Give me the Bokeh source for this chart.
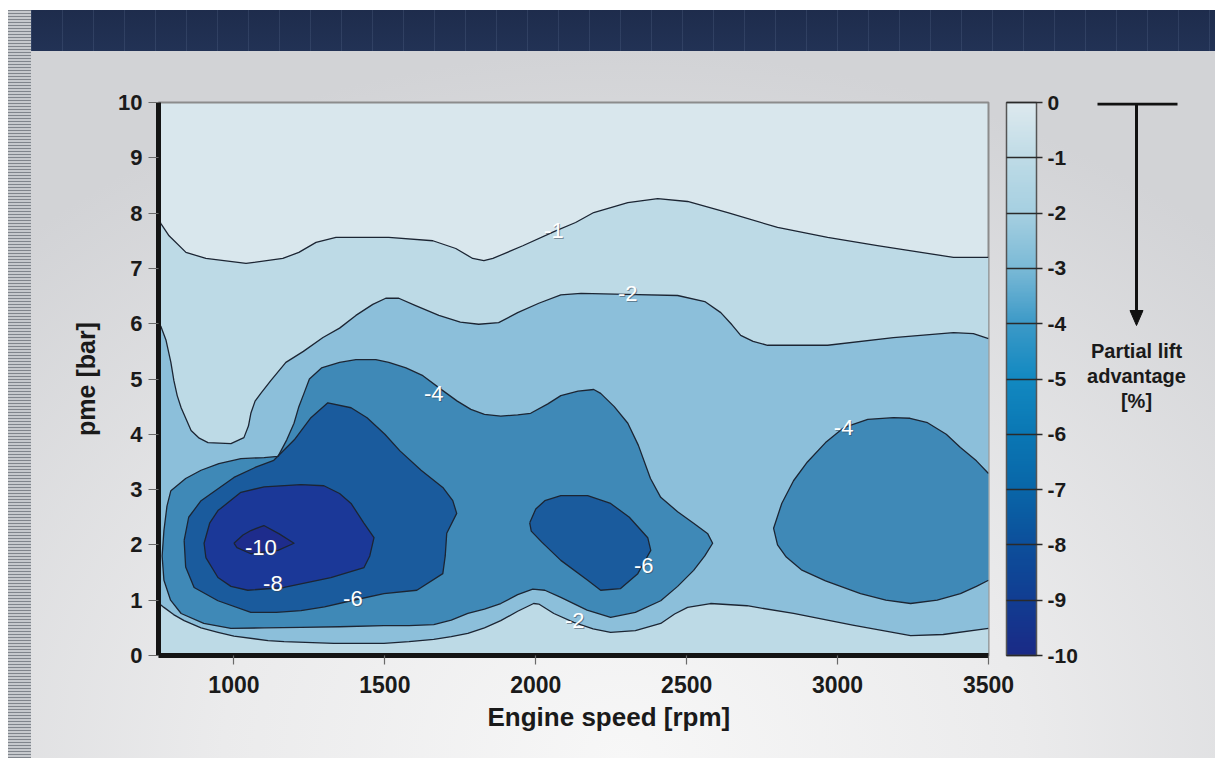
import numpy as np
from bokeh.plotting import figure
from bokeh.layouts import row
from bokeh.models import (ColorBar, LinearColorMapper, FixedTicker, Range1d, Title)
from bokeh.core.properties import value
from bokeh.embed import file_html
from bokeh.resources import INLINE

# ---------------- data ----------------
x_ticks = [1000, 1500, 2000, 2500, 3000, 3500]
y_ticks = list(range(0, 11))
cbar_ticks = list(range(-10, 1))

# isoline -1 (open, left edge -> right edge)
iso_m1_x = [750, 758, 785, 841, 907, 1040, 1162, 1215, 1272, 1338, 1513, 1659, 1735, 1791, 1828,
            1858, 1957, 2066, 2132, 2192, 2305, 2404, 2503, 2636, 2801, 2967, 3132, 3298, 3384, 3500]
iso_m1_y = [7.9, 7.81, 7.59, 7.29, 7.18, 7.09, 7.18, 7.29, 7.47, 7.56, 7.56, 7.5, 7.36, 7.18, 7.14,
            7.18, 7.41, 7.68, 7.83, 8.01, 8.19, 8.26, 8.21, 8.01, 7.74, 7.56, 7.41, 7.27, 7.2, 7.2]

# isoline -2 upper (open)
iso_m2u_x = [750, 758, 775, 791, 801, 812, 825, 858, 885, 914, 990, 1033, 1048, 1056, 1070, 1089,
             1122, 1172, 1230, 1295, 1350, 1404, 1460, 1503, 1546, 1600, 1679, 1750, 1811, 1877,
             1940, 2010, 2083, 2150, 2300, 2470, 2560, 2613, 2650, 2679, 2720, 2768, 2967, 3185,
             3384, 3450, 3500]
iso_m2u_y = [6.0, 5.95, 5.7, 5.3, 4.97, 4.7, 4.48, 4.07, 3.93, 3.85, 3.83, 3.94, 4.15, 4.38, 4.6,
             4.74, 4.97, 5.3, 5.5, 5.75, 5.92, 6.15, 6.35, 6.46, 6.46, 6.33, 6.15, 6.03, 5.99, 6.02,
             6.2, 6.37, 6.52, 6.55, 6.53, 6.51, 6.4, 6.2, 5.98, 5.79, 5.68, 5.61, 5.61, 5.75,
             5.84, 5.82, 5.73]

# isoline -2 lower (open)
iso_m2l_x = [750, 768, 800, 835, 891, 947, 1000, 1113, 1166, 1331, 1497, 1580, 1662, 1720, 1775,
             1830, 1884, 1940, 1993, 2010, 2060, 2126, 2190, 2248, 2330, 2414, 2460, 2503, 2579,
             2700, 2854, 3050, 3242, 3350, 3500]
iso_m2l_y = [0.95, 0.87, 0.74, 0.63, 0.5, 0.42, 0.35, 0.27, 0.25, 0.22, 0.22, 0.25, 0.29, 0.34, 0.4,
             0.5, 0.63, 0.8, 0.94, 0.93, 0.76, 0.6, 0.48, 0.42, 0.45, 0.58, 0.75, 0.87, 0.94,
             0.9, 0.76, 0.55, 0.36, 0.38, 0.49]

# isoline -4, large left region (closed)
iso_m4a_x = [791, 840, 891, 950, 1023, 1100, 1146, 1175, 1199, 1215, 1232, 1250, 1290, 1350, 1404,
             1470, 1513, 1570, 1626, 1692, 1740, 1785, 1830, 1884, 1940, 1983, 2040, 2083, 2140,
             2192, 2215, 2260, 2305, 2340, 2380, 2414, 2470, 2523, 2570, 2586, 2560, 2523, 2470,
             2414, 2330, 2248, 2170, 2083, 2030, 1990, 1940, 1884, 1830, 1775, 1720, 1662, 1580,
             1497, 1350, 1222, 1100, 990, 900, 825, 790, 768, 762, 768, 778]
iso_m4a_y = [2.98, 3.2, 3.35, 3.47, 3.56, 3.58, 3.6, 3.9, 4.2, 4.5, 4.74, 5.0, 5.2, 5.3, 5.35,
             5.35, 5.3, 5.2, 5.06, 4.79, 4.6, 4.45, 4.36, 4.33, 4.35, 4.38, 4.55, 4.7, 4.78,
             4.81, 4.74, 4.5, 4.2, 3.8, 3.2, 2.86, 2.6, 2.39, 2.2, 2.03, 1.8, 1.54, 1.25,
             0.99, 0.78, 0.69, 0.82, 1.05, 1.18, 1.2, 1.1, 0.94, 0.84, 0.76, 0.64, 0.56, 0.54,
             0.54, 0.52, 0.51, 0.5, 0.49, 0.58, 0.76, 1.0, 1.36, 1.8, 2.26, 2.7]

# isoline -4, right region (open, meets right edge)
iso_m4b_x = [3500, 3460, 3407, 3360, 3298, 3240, 3185, 3100, 3020, 2960, 2900, 2854, 2815, 2788,
             2801, 2830, 2880, 2960, 3076, 3160, 3242, 3330, 3407, 3460, 3500]
iso_m4b_y = [3.29, 3.52, 3.76, 4.0, 4.21, 4.29, 4.3, 4.27, 4.12, 3.85, 3.5, 3.16, 2.75, 2.3,
             2.0, 1.78, 1.55, 1.35, 1.12, 1.0, 0.94, 1.0, 1.12, 1.25, 1.36]

# isoline -6, left (closed)
iso_m6a_x = [835, 850, 891, 1000, 1070, 1132, 1200, 1255, 1311, 1388, 1441, 1500, 1550, 1620, 1692,
             1725, 1738, 1705, 1700, 1692, 1606, 1497, 1388, 1300, 1222, 1140, 1056, 947, 868, 840]
iso_m6a_y = [2.08, 2.5, 2.8, 3.22, 3.4, 3.53, 3.9, 4.3, 4.57, 4.48, 4.3, 4.0, 3.7, 3.35, 3.04,
             2.8, 2.57, 2.21, 1.8, 1.48, 1.18, 1.12, 0.99, 0.88, 0.81, 0.78, 0.78, 0.99, 1.23, 1.6]

# isoline -6, middle (closed)
iso_m6b_x = [1980, 2000, 2030, 2083, 2172, 2248, 2310, 2371, 2381, 2338, 2281, 2215, 2172, 2083,
             2020, 1985]
iso_m6b_y = [2.4, 2.65, 2.8, 2.89, 2.89, 2.75, 2.5, 2.13, 1.9, 1.48, 1.21, 1.18, 1.36, 1.72,
             2.05, 2.25]

# isoline -8 (closed)
iso_m8_x = [907, 901, 920, 947, 1023, 1100, 1222, 1298, 1350, 1388, 1430, 1464, 1450, 1431, 1321,
            1166, 1046, 990, 947]
iso_m8_y = [1.77, 2.03, 2.4, 2.62, 2.95, 3.05, 3.09, 3.07, 2.93, 2.75, 2.4, 2.13, 1.8, 1.59, 1.41,
            1.23, 1.18, 1.25, 1.41]

# isoline -10 (closed)
iso_m10_x = [1000, 1030, 1056, 1099, 1150, 1199, 1146, 1056, 1010]
iso_m10_y = [2.03, 2.18, 2.26, 2.35, 2.2, 2.03, 1.9, 1.84, 1.95]

# contour labels
lab_x = [2060, 2305, 1662, 3020, 1089, 1129, 1394, 2358, 2129]
lab_y = [7.69, 6.55, 4.74, 4.12, 1.95, 1.3, 1.03, 1.63, 0.63]
lab_text = ["-1", "-2", "-4", "-4", "-10", "-8", "-6", "-6", "-2"]

# side note text
note_lines = ["Partial lift", "advantage", "[%]"]

# ---------------- styles ----------------
FONT = "Liberation Sans"
band_bg = "#d9e7ed"
band_colors = {"m1": "#bddae6", "m2": "#8cbfda", "m4": "#3f89b7",
               "m6": "#1a5b9d", "m8": "#1b3898", "m10": "#1e2c8c"}
line_col = "#1c2533"

anchors = ["#1a2a86", "#113d92", "#0c4f9b", "#0966a8", "#0a77b4", "#1289c1",
           "#3b99c7", "#7ab9d6", "#a5cfe1", "#bedbe6", "#dde9ee"]


def hex2rgb(h):
    return np.array([int(h[i:i + 2], 16) for i in (1, 3, 5)], float)


def build_palette(cols, n=220):
    a = np.array([hex2rgb(c) for c in cols])
    pos = np.linspace(0, 1, len(cols))
    t = np.linspace(0, 1, n)
    out = []
    for ti in t:
        rgb = [np.interp(ti, pos, a[:, k]) for k in range(3)]
        out.append("#%02x%02x%02x" % tuple(int(round(v)) for v in rgb))
    return out


palette = build_palette(anchors)

W, H = 1215, 758
W_MAIN = 1082
FR_TOP, FR_BOTTOM = 102, 655
p = figure(width=W_MAIN, height=H, output_backend="svg", toolbar_location=None,
           x_range=Range1d(750, 3500), y_range=Range1d(0, 10),
           min_border_left=158, min_border_right=W_MAIN - 988, min_border_top=FR_TOP,
           min_border_bottom=H - FR_BOTTOM)
p.border_fill_color = None
p.background_fill_color = band_bg
p.outline_line_color = "#8c8c8c"
p.outline_line_width = 2
p.xgrid.visible = False
p.ygrid.visible = False

# filled bands (painter order, lightest to darkest)
p.patch(iso_m1_x + [3500, 750], iso_m1_y + [0, 0], fill_color=band_colors["m1"], line_color=None)
p.patch(iso_m2u_x + iso_m2l_x[::-1], iso_m2u_y + iso_m2l_y[::-1],
        fill_color=band_colors["m2"], line_color=None)
p.patches([iso_m4a_x, iso_m4b_x], [iso_m4a_y, iso_m4b_y], fill_color=band_colors["m4"], line_color=None)
p.patches([iso_m6a_x, iso_m6b_x], [iso_m6a_y, iso_m6b_y], fill_color=band_colors["m6"], line_color=None)
p.patch(iso_m8_x, iso_m8_y, fill_color=band_colors["m8"], line_color=None)
p.patch(iso_m10_x, iso_m10_y, fill_color=band_colors["m10"], line_color=None)


def closed(xs, ys):
    return xs + xs[:1], ys + ys[:1]


lines_x, lines_y = [], []
for xs, ys in [(iso_m1_x, iso_m1_y), (iso_m2u_x, iso_m2u_y), (iso_m2l_x, iso_m2l_y),
               (iso_m4b_x, iso_m4b_y)]:
    lines_x.append(xs)
    lines_y.append(ys)
for xs, ys in [(iso_m4a_x, iso_m4a_y), (iso_m6a_x, iso_m6a_y), (iso_m6b_x, iso_m6b_y),
               (iso_m8_x, iso_m8_y), (iso_m10_x, iso_m10_y)]:
    cx, cy = closed(xs, ys)
    lines_x.append(cx)
    lines_y.append(cy)
p.multi_line(lines_x, lines_y, line_color=line_col, line_width=1.3, line_join="round")

# contour labels
p.text(lab_x, lab_y, text=lab_text, text_color="#3a4654", text_alpha=0.55, x_offset=1, y_offset=1,
       text_align="center", text_baseline="middle", text_font=value(FONT), text_font_size="22px")
p.text(lab_x, lab_y, text=lab_text, text_color="white",
       text_align="center", text_baseline="middle", text_font=value(FONT), text_font_size="22px")

# axes
for ax in (p.xaxis[0], p.yaxis[0]):
    ax.axis_line_width = 5
    ax.axis_line_color = "#141414"
    ax.major_tick_in = 0
    ax.major_tick_line_color = "#6a6a6a"
    ax.major_tick_line_width = 1.2
    ax.minor_tick_line_color = None
    ax.major_label_text_font = FONT
    ax.major_label_text_font_style = "bold"
    ax.major_label_text_color = "#1a1a1a"
p.xaxis[0].ticker = FixedTicker(ticks=x_ticks)
p.yaxis[0].ticker = FixedTicker(ticks=y_ticks)
p.xaxis[0].major_tick_out = 9
p.yaxis[0].major_tick_out = 10
p.xaxis[0].major_label_text_font_size = "23px"
p.yaxis[0].major_label_text_font_size = "22px"
p.xaxis[0].major_label_standoff = 11
p.yaxis[0].major_label_standoff = 6

p.yaxis[0].axis_label = "pme [bar]"
p.yaxis[0].axis_label_text_font = FONT
p.yaxis[0].axis_label_text_font_style = "bold"
p.yaxis[0].axis_label_text_font_size = "25px"
p.yaxis[0].axis_label_text_color = "#1a1a1a"
p.yaxis[0].axis_label_standoff = 15

xtitle = Title(text="Engine speed [rpm]", align="left", offset=329, standoff=9,
               text_font=FONT, text_font_style="bold", text_font_size="26px",
               text_color="#1a1a1a")
p.add_layout(xtitle, "below")

# colour bar
mapper = LinearColorMapper(palette=palette, low=-10, high=0)
cb = ColorBar(color_mapper=mapper, ticker=FixedTicker(ticks=cbar_ticks), width=30, height=553,
              margin=0, padding=0, location=(18, 0),
              major_label_overrides={t: str(t) for t in cbar_ticks},
              major_tick_in=30, major_tick_out=6, major_tick_line_color="#2a2a2a",
              major_tick_line_width=1.3, minor_tick_line_color=None,
              bar_line_color="#555555", bar_line_width=1.5, label_standoff=5,
              major_label_text_font=FONT, major_label_text_font_style="bold",
              major_label_text_font_size="21px", major_label_text_color="#1a1a1a",
              background_fill_alpha=0, border_line_color=None)
p.add_layout(cb, "right")

# right-hand note panel (pixel coordinates, y downwards; frame aligned with main frame)
p2 = figure(width=W - W_MAIN, height=H, output_backend="svg", toolbar_location=None,
            x_range=Range1d(W_MAIN, W), y_range=Range1d(FR_BOTTOM, FR_TOP),
            x_axis_type=None, y_axis_type=None, min_border=0)
p2.border_fill_color = None
p2.background_fill_color = None
p2.outline_line_color = None
p2.grid.visible = False
p2.segment(x0=[1097, 1136], y0=[103.5, 103.5], x1=[1177, 1136], y1=[103.5, 313],
           line_color="#111111", line_width=3)
p2.patch([1129.5, 1142.5, 1136], [310, 310, 325], fill_color="#111111", line_color="#111111")
p2.text(x=[1136, 1136, 1136], y=[350, 375, 400], text=note_lines, text_align="center",
        text_baseline="alphabetic", text_font=value(FONT), text_font_style="bold",
        text_font_size="20px", text_color="#1a1a1a")

bg = ("repeating-linear-gradient(90deg, rgba(130,150,185,0.16) 0px, rgba(130,150,185,0.16) 1px, "
      "rgba(0,0,0,0) 1px, rgba(0,0,0,0) 31px) 31px 10px / calc(100% - 31px) 41px no-repeat, "
      "linear-gradient(180deg, #1e2c4c, #223255) 31px 10px / calc(100% - 31px) 41px no-repeat, "
      "repeating-linear-gradient(180deg, #80858c 0px, #80858c 1px, #c6c9cd 1px, #c6c9cd 3px) "
      "8px 10px / 23px 100% no-repeat, "
      "radial-gradient(ellipse 75% 100% at 50% 100%, #f7f7f7 0%, #ebebec 45%, #d2d3d6 100%) "
      "31px 51px / calc(100% - 31px) calc(100% - 51px) no-repeat, #ffffff")

layout = row(p, p2, spacing=0, styles={"background": bg})

open("out.html", "w").write(file_html(layout, INLINE, title="Partial lift advantage"))
